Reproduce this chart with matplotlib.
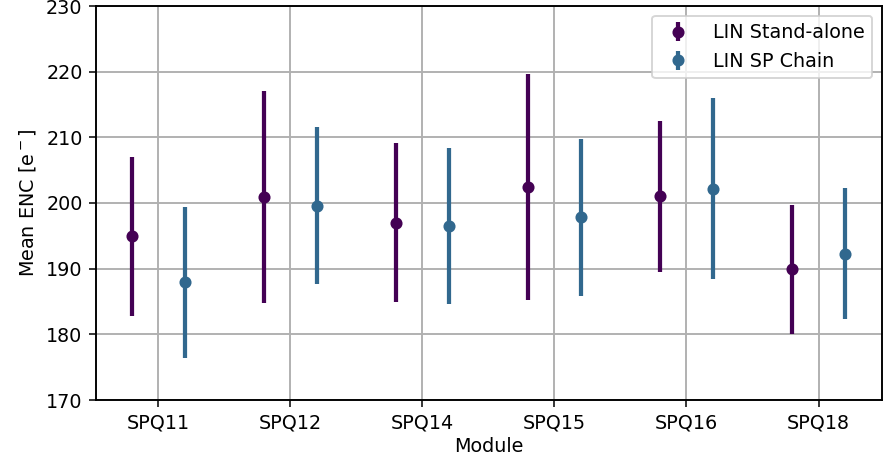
import matplotlib
matplotlib.use("Agg")
import matplotlib.pyplot as plt
import numpy as np

modules = ["SPQ11", "SPQ12", "SPQ14", "SPQ15", "SPQ16", "SPQ18"]
standalone_mean = [194.9, 200.9, 197.0, 202.4, 201.0, 189.9]
standalone_err = [12.1, 16.2, 12.1, 17.2, 11.5, 9.8]
chain_mean = [187.9, 199.6, 196.5, 197.8, 202.2, 192.3]
chain_err = [11.5, 12.0, 11.9, 12.0, 13.8, 10.0]

fig = plt.figure(figsize=(885/138, 456/138), dpi=138)
ax = fig.add_axes([96/885, 1-400/456, (882-96)/885, 394/456])

x = np.arange(len(modules))
off = 0.2
ax.errorbar(x - off, standalone_mean, yerr=standalone_err, fmt='o', color='#440154',
            elinewidth=2.2, ms=5.3, label='LIN Stand-alone', zorder=3)
ax.errorbar(x + off, chain_mean, yerr=chain_err, fmt='o', color='#31688e',
            elinewidth=2.2, ms=5.3, label='LIN SP Chain', zorder=3)

ax.set_xticks(x)
ax.set_xticklabels(modules)
ax.set_xlim(-0.47, 5.48)
ax.set_ylim(170, 230)
ax.set_yticks(np.arange(170, 231, 10))
ax.grid(True, color='#b0b0b0', lw=1.0)
ax.set_axisbelow(True)
for s in ax.spines.values():
    s.set_linewidth(1.0)
ax.set_xlabel("Module", labelpad=2.5)
ax.set_ylabel(r"Mean ENC [e$^-$]")
ax.legend(loc='upper right')

fig.savefig("out.png", dpi=138)
